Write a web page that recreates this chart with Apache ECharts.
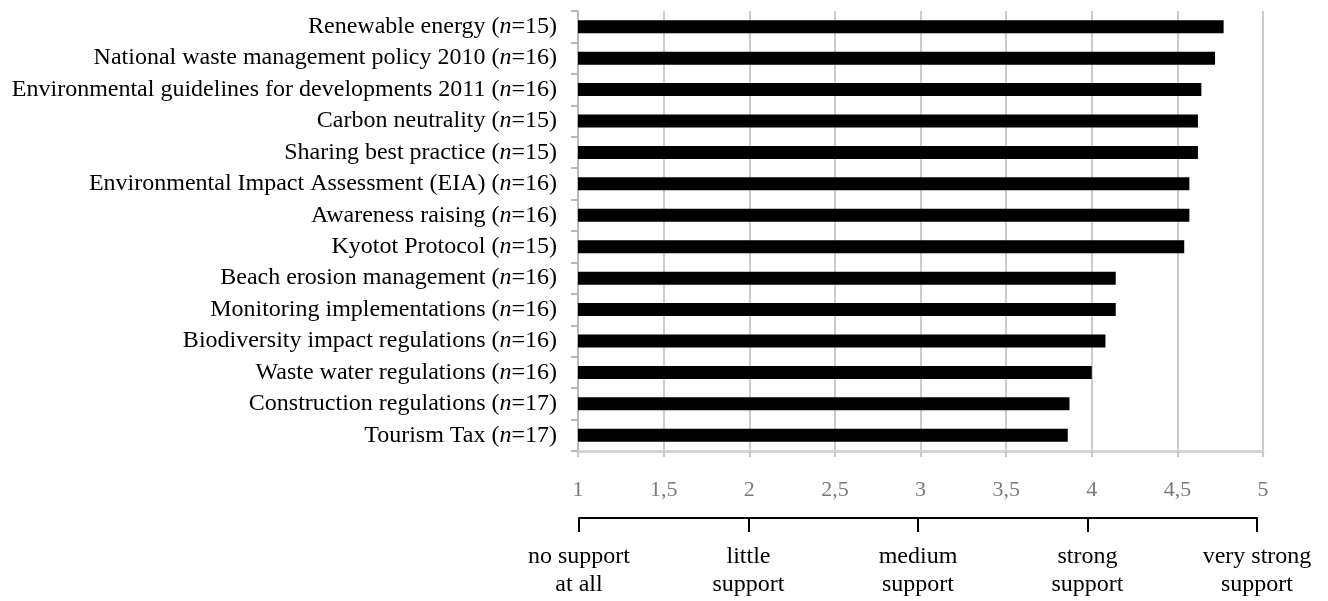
<!DOCTYPE html>
<html>
<head>
<meta charset="utf-8">
<title>Support for environmental policies</title>
<script src="https://cdn.jsdelivr.net/npm/echarts@6/dist/echarts.min.js"></script>
<style>
  html, body { margin: 0; padding: 0; background: #fff; }
  #chart { width: 1328px; height: 601px; }
</style>
</head>
<body>
<div id="chart"></div>
<script>
// policy names, top to bottom
const policies = [
  'Renewable energy',
  'National waste management policy 2010',
  'Environmental guidelines for developments 2011',
  'Carbon neutrality',
  'Sharing best practice',
  'Environmental Impact Assessment (EIA)',
  'Awareness raising',
  'Kyotot Protocol',
  'Beach erosion management',
  'Monitoring implementations',
  'Biodiversity impact regulations',
  'Waste water regulations',
  'Construction regulations',
  'Tourism Tax'
]
const respondents = [15, 16, 16, 15, 15, 16, 16, 15, 16, 16, 16, 16, 17, 17]
// mean support score (1-5)
const meanScores = [4.77, 4.72, 4.64, 4.62, 4.62, 4.57, 4.57, 4.54, 4.14, 4.14, 4.08, 4.00, 3.87, 3.86]
// verbal scale under the axis
const scaleLabels = ['no support\nat all', 'little\nsupport', 'medium\nsupport', 'strong\nsupport', 'very strong\nsupport']

const serif = '"Liberation Serif", "Times New Roman", serif'

const categories = policies.map((p, i) => p + '|' + respondents[i])

const chart = echarts.init(document.getElementById('chart'))

chart.setOption({
  animation: false,
  textStyle: { fontFamily: serif },
  grid: [
    { left: 578, right: 65, top: 11, bottom: 150, containLabel: false },
    // thin strip for the bracket scale (slightly shorter than the plot)
    { left: 579, right: 71, top: 517, height: 1, containLabel: false }
  ],
  xAxis: [
    {
      type: 'value',
      gridIndex: 0,
      min: 1,
      max: 5,
      interval: 0.5,
      position: 'bottom',
      axisLine: { show: true, lineStyle: { color: '#d4d4d4', width: 3 } },
      axisTick: { show: true, length: 6, lineStyle: { color: '#c8c8c8', width: 2 } },
      splitLine: { show: true, lineStyle: { color: '#cccccc', width: 2 } },
      axisLabel: {
        margin: 28,
        fontSize: 22,
        lineHeight: 22,
        color: '#7a7a7a',
        fontFamily: serif,
        formatter: (v) => String(v).replace('.', ',')
      }
    },
    {
      type: 'value',
      gridIndex: 1,
      min: 1,
      max: 5,
      interval: 1,
      position: 'bottom',
      axisLine: { show: true, lineStyle: { color: '#000', width: 2 } },
      axisTick: { show: true, length: 14, lineStyle: { color: '#000', width: 2 } },
      splitLine: { show: false },
      axisLabel: {
        margin: 25,
        fontSize: 24,
        lineHeight: 28,
        color: '#000',
        fontFamily: serif,
        formatter: (v) => scaleLabels[Math.round(v) - 1] || ''
      }
    }
  ],
  yAxis: [
    {
      type: 'category',
      gridIndex: 0,
      inverse: true,
      data: categories,
      axisLine: { show: true, lineStyle: { color: '#b8b8b8', width: 2 } },
      axisTick: { show: true, length: 7, lineStyle: { color: '#b8b8b8', width: 2 } },
      splitLine: { show: false },
      axisLabel: {
        margin: 21,
        formatter: (v) => {
          const [name, n] = v.split('|')
          return '{a|' + name + ' (}{i|n}{a|=' + n + ')}'
        },
        rich: {
          a: { fontSize: 24, color: '#000', fontFamily: serif },
          i: { fontSize: 24, color: '#000', fontFamily: serif, fontStyle: 'italic' }
        }
      }
    },
    { type: 'value', gridIndex: 1, show: false }
  ],
  series: [
    {
      type: 'bar',
      xAxisIndex: 0,
      yAxisIndex: 0,
      data: meanScores,
      barWidth: 13,
      itemStyle: { color: '#000' }
    }
  ]
})
</script>
</body>
</html>
